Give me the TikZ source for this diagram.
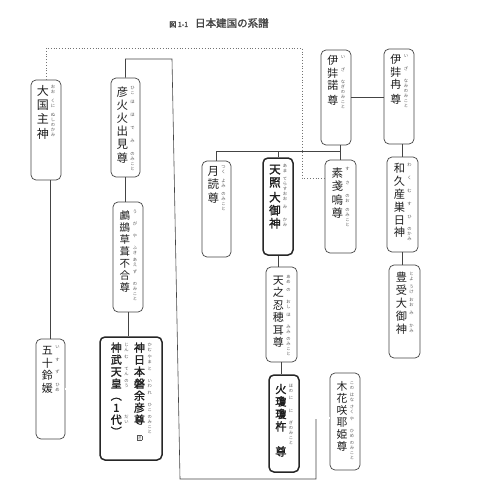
\documentclass[tikz,border=0pt]{standalone}
\usepackage{fontspec}
\newfontfamily\jp{Noto Sans CJK JP}
\newfontfamily\jpb[FakeBold=1.6]{Noto Sans CJK JP}
\definecolor{linec}{HTML}{444444}
\definecolor{ink}{HTML}{1E1E1E}
\definecolor{furic}{HTML}{555555}
\newdimen\kh \kh=13pt
\def\ksz{11.5}
\newif\ifkbold
\newcommand\kset[2]{\kh=#1pt\def\ksz{#2}}
\newcommand\kfont{\ifkbold\jpb\else\jp\fi\fontsize{\ksz}{\ksz}\selectfont}
\newcommand\ffont{\jp\fontsize{4.3}{5}\selectfont\color{furic}}
\def\furiloop#1{\ifx#1\relax\else\hbox to 5pt{\hss\vrule height 4pt depth 1pt width 0pt\relax#1\hss}\expandafter\furiloop\fi}
\newcommand\furi[1]{\vtop{\ffont\offinterlineskip\null\furiloop#1\relax}}
\newcommand\kr[2]{\hbox{\vtop{\offinterlineskip\null\hbox to 13pt{\hss\kfont\vrule height .78\kh depth .22\kh width 0pt\relax#1\hss}}\kern1.2pt\furi{#2}}}
\newcommand\kc[1]{\vtop{\offinterlineskip\null#1}}
\begin{document}
\begin{tikzpicture}[x=1pt,y=-1pt,
  kbox/.style={draw=linec, line width=0.7pt, rounded corners=5pt, inner sep=0pt},
  bbox/.style={kbox, draw=black!85, line width=1.5pt},
  txt/.style={anchor=north, inner sep=0pt, text=ink},
  conn/.style={draw=linec, line width=0.6pt},
  dbl/.style={draw=linec, line width=0.5pt, double=white, double distance=1.4pt},
  dots/.style={draw=linec!75, line width=0.8pt, dotted}]
\fill[white] (0,0) rectangle (487,492);
\useasboundingbox (0,0) rectangle (487,492);

% title
\node[text=linec] (title) at (219,23) {{\jpb\fontsize{7}{8}\selectfont 図 1-1}\hspace{7pt}{\jpb\fontsize{10.5}{12}\selectfont 日本建国の系譜}};

% boxes
\node[kbox, minimum width=30pt, minimum height=100pt] (okuni) at (46,130) {};
\node[kbox, minimum width=29pt, minimum height=99pt] (hiko) at (125.5,127.5) {};
\node[kbox, minimum width=30pt, minimum height=110pt] (ugaya) at (128,257) {};
\node[bbox, minimum width=62pt, minimum height=123pt] (jinmu) at (131,398.5) {};
\node[kbox, minimum width=29pt, minimum height=100pt] (isuzu) at (50.5,389) {};
\node[kbox, minimum width=29pt, minimum height=96pt] (tsuku) at (216.5,209) {};
\node[bbox, minimum width=30pt, minimum height=97pt] (ama) at (278,206.5) {};
\node[kbox, minimum width=31pt, minimum height=93pt] (susa) at (340.5,206.5) {};
\node[kbox, minimum width=30pt, minimum height=95pt] (izanagi) at (336,97.5) {};
\node[kbox, minimum width=30pt, minimum height=95pt] (izanami) at (399,96.5) {};
\node[kbox, minimum width=31pt, minimum height=95pt] (waku) at (402.5,204.5) {};
\node[kbox, minimum width=31pt, minimum height=93pt] (toyo) at (404.5,311.5) {};
\node[kbox, minimum width=31pt, minimum height=95pt] (oshiho) at (281.5,314.5) {};
\node[bbox, minimum width=30pt, minimum height=97pt] (ninigi) at (284,423.5) {};
\node[kbox, minimum width=30pt, minimum height=97pt] (kono) at (345,421.5) {};

% texts
\node[txt] (okuni-t) at ([yshift=-5pt]okuni.north) {\kset{14}{12}\kc{\kr{大}{おお}\kr{国}{くに}\kr{主}{ぬしの}\kr{神}{かみ}}};
\node[txt] (hiko-t) at ([yshift=-8pt]hiko.north) {\kset{13.2}{11.5}\kc{\kr{彦}{ひこ}\kr{火}{ほ}\kr{火}{ほ}\kr{出}{で}\kr{見}{み}\kr{尊}{のみこと}}};
\node[txt] (ugaya-t) at ([yshift=-8pt]ugaya.north) {\kset{12}{10.5}\kc{\kr{鸕}{う}\kr{鷀}{が}\kr{草}{や}\kr{葺}{ふき}\kr{不}{あえ}\kr{合}{ず}\kr{尊}{のみこと}}};
\node[txt] (jinmu-t) at ([yshift=-6pt]jinmu.north) {\kset{12}{11}\kboldtrue\hbox{\kc{\kr{神}{じん}\kr{武}{む}\kr{天}{てん}\kr{皇}{のう}\kr{︵}{}\kr{1}{}\kr{代}{だい}\kr{︶}{}}\kern4pt\kc{\kr{神}{かむ}\kr{日}{やま}\kr{本}{と}\kr{磐}{いわ}\kr{余}{れ}\kr{彦}{ひこ}\kr{尊}{のみこと}\kern1pt\hbox to 13pt{\hss\ffont\fboxsep0.3pt\fboxrule0.3pt\fbox{注}\hss}}}};
\node[txt] (isuzu-t) at ([yshift=-6pt]isuzu.north) {\kset{12.5}{11}\kc{\kr{五}{い}\kr{十}{す}\kr{鈴}{ず}\kr{媛}{ひめ}}};
\node[txt] (tsuku-t) at ([yshift=-4pt]tsuku.north) {\kset{13.5}{11.5}\kc{\kr{月}{つく}\kr{読}{よみ}\kr{尊}{のみこと}}};
\node[txt] (ama-t) at ([yshift=-6pt]ama.north) {\kset{13}{11.5}\kboldtrue\kc{\kr{天}{あま}\kr{照}{てらす}\kr{大}{おお}\kr{御}{み}\kr{神}{かみ}}};
\node[txt] (susa-t) at ([yshift=-7pt]susa.north) {\kset{13.5}{11.5}\kc{\kr{素}{す}\kr{戔}{さ}\kr{嗚}{のお}\kr{尊}{のみこと}}};
\node[txt] (izanagi-t) at ([yshift=-5pt]izanagi.north) {\kset{12.5}{11}\kc{\kr{伊}{い}\kr{弉}{ざ}\kr{諾}{なぎの}\kr{尊}{みこと}}};
\node[txt] (izanami-t) at ([yshift=-5pt]izanami.north) {\kset{12.5}{11}\kc{\kr{伊}{い}\kr{弉}{ざ}\kr{冉}{なみの}\kr{尊}{みこと}}};
\node[txt] (waku-t) at ([yshift=-6pt]waku.north) {\kset{12.8}{11.2}\kc{\kr{和}{わ}\kr{久}{く}\kr{産}{む}\kr{巣}{す}\kr{日}{ひ}\kr{神}{のかみ}}};
\node[txt] (toyo-t) at ([yshift=-7pt]toyo.north) {\kset{12.8}{11.2}\kc{\kr{豊}{とよ}\kr{受}{うけ}\kr{大}{おお}\kr{御}{み}\kr{神}{かみ}}};
\node[txt] (oshiho-t) at ([yshift=-8pt]oshiho.north) {\kset{12.4}{11}\kc{\kr{天}{あめ}\kr{之}{の}\kr{忍}{おし}\kr{穂}{ほ}\kr{耳}{みみ}\kr{尊}{のみこと}}};
\node[txt] (ninigi-t) at ([yshift=-9pt]ninigi.north) {\kset{12.5}{11.2}\kboldtrue\kc{\kr{火}{ほの}\kr{瓊}{に}\kr{瓊}{に}\kr{杵}{ぎのみこと}\kr{尊}{}}};
\node[txt] (kono-t) at ([yshift=-8pt]kono.north) {\kset{12}{10.8}\kc{\kr{木}{この}\kr{花}{はな}\kr{咲}{さく}\kr{耶}{や}\kr{姫}{ひめ}\kr{尊}{のみこと}}};

% connectors
\coordinate (d1) at (302,48);
\coordinate (d2) at (302,178);
\draw[dots] (okuni.north) |- (d1) -- (d2) -- (susa.west |- d2);

\draw[conn] (izanagi.east) -- (izanagi.east -| izanami.west);
\coordinate (bar) at (0,151);
\draw[conn] (tsuku.north) |- (susa.north |- bar);
\draw[conn] (ama.north) -- (ama.north |- bar);
\draw[conn] (izanagi.south -| susa.north) -- (susa.north);
\draw[conn] (izanami.south -| waku.north) -- (waku.north);
\draw[conn] (waku.south) -- (waku.south |- toyo.north);
\draw[conn] (ama.south) -- (ama.south |- oshiho.north);
\draw[conn] (oshiho.south) -- (oshiho.south |- ninigi.north);

\coordinate (m) at (316,418);
\draw[dbl] (ninigi.east |- m) -- (kono.west |- m);
\coordinate (c1) at (180,479);
\coordinate (c2) at (172,59);
\draw[conn] ([yshift=-1pt]m) |- (c1) -- (c2) -| (hiko.north);

\draw[conn] (hiko.south) -- (hiko.south |- ugaya.north);
\draw[conn] (ugaya.south) -- (ugaya.south |- jinmu.north);
\draw[conn] (okuni.south -| isuzu.north) -- (isuzu.north);
\draw[dbl] (isuzu.east) -- (isuzu.east -| jinmu.west);
\end{tikzpicture}
\end{document}
